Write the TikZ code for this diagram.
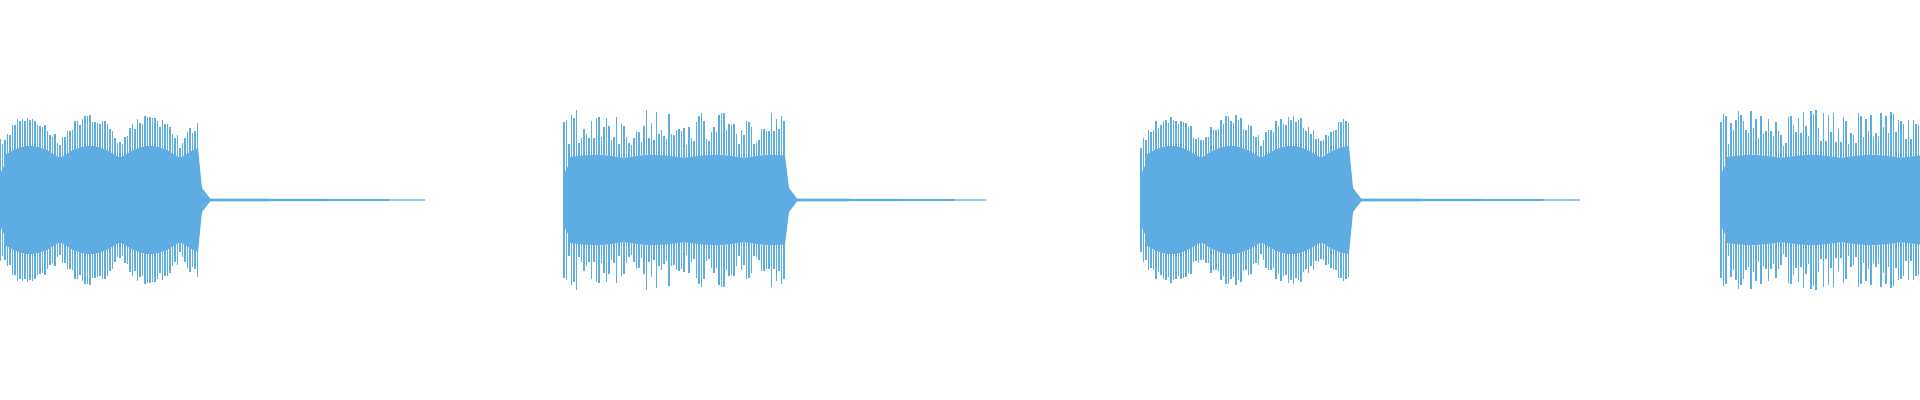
\documentclass[tikz,border=0pt]{standalone}
\usepackage{tikz}
\definecolor{wave}{RGB}{93,173,226}
\tikzset{spike/.style={wave, line width=0.4pt}, core/.style={fill=wave}}
% one burst: start, end of burst, end of tail, depth of the swell, noise
\newcommand{\burst}[5]{
    \fill[core] (#1,-26) -- (#1,26) -- (#1+6,38)
        -- plot[domain=#1+6:#2, samples=150] (\x,{42+#4*abs(sin((\x-#1)*3))})
        -- (#2+4,12) -- (#2+12,1.5) -- (#3,0.6) -- (#3,-0.6) -- (#2+12,-1.5) -- (#2+4,-12)
        -- plot[domain=#2:#1+6, samples=150] (\x,{-42-#4*abs(sin((\x-#1)*3))}) -- (#1+6,-38) -- cycle;
    \pgfmathtruncatemacro{\nspk}{(#2-#1)/2.5}
    \foreach \k in {0,...,\nspk}{
        \pgfmathsetmacro{\sx}{#1+2.5*\k}
        \pgfmathsetmacro{\h}{52+#4*2*abs(sin((\sx-#1)*3))+#5*rnd}
        \draw[spike] (\sx,-\h) -- (\sx,\h);
    }
}
\begin{document}
\begin{tikzpicture}[x=0.01cm, y=0.01cm]
    \useasboundingbox (0,-200) rectangle (1920,200);
    \pgfmathsetseed{7}
    % bursts
    \burst{0}{198}{425}{12}{10}
    \burst{564}{785}{986}{3}{34}
    \burst{1141}{1349}{1580}{12}{10}
    \burst{1721}{1920}{1920}{3}{34}
\end{tikzpicture}
\end{document}
